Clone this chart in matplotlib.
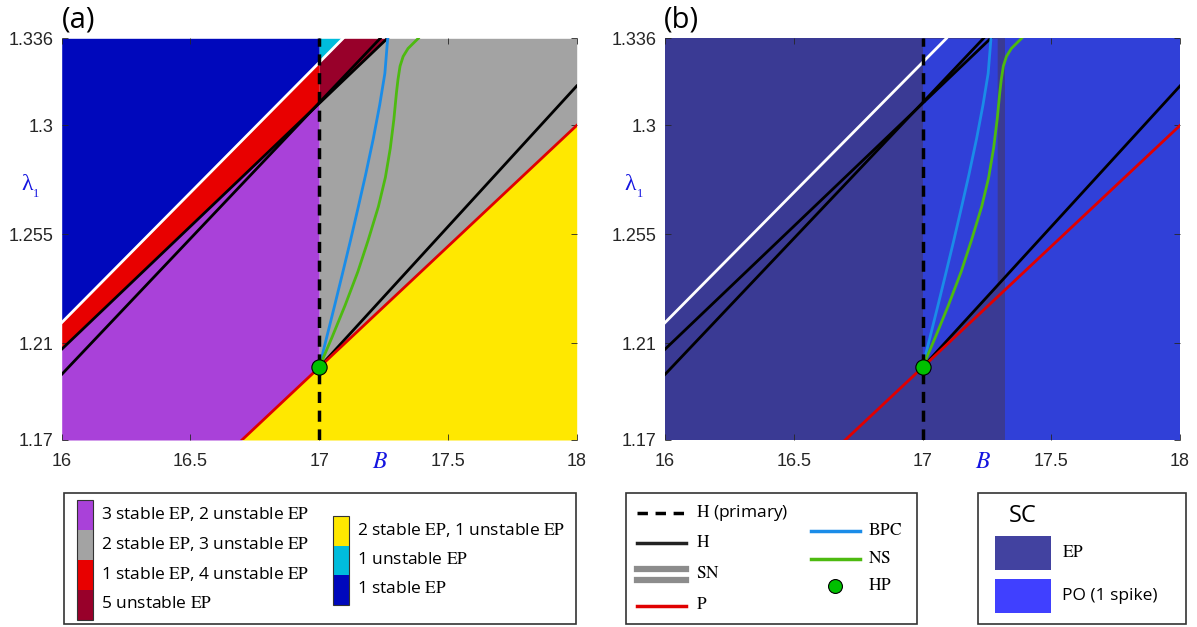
import numpy as np
import matplotlib
matplotlib.use("Agg")
import matplotlib.pyplot as plt
from matplotlib.patches import Rectangle
from matplotlib.lines import Line2D

plt.rcParams['font.family'] = ['Liberation Sans', 'DejaVu Sans']
plt.rcParams['mathtext.fontset'] = 'stix'

#------------------------------------------------------------------
# axis ranges / ticks
B_LIM = [16, 18]
L_LIM = [1.17, 1.336]
XTICKS = [16, 16.5, 17, 17.5, 18]
XTICKLABELS = ["16", "16.5", "17", "17.5", "18"]
YTICKS = [1.17, 1.21, 1.255, 1.3, 1.336]
YTICKLABELS = ["1.17", "1.21", "1.255", "1.3", "1.336"]

# bifurcation curves (B, lambda_1)
H_PRIMARY_B = 17.0
HP_B, HP_L = 17.0, 1.2
WHITE_B = [16.0, 17.093]
WHITE_L = [1.2185, 1.336]
H1_B = [16.0, 17.265]
H1_L = [1.2075, 1.336]
H2_B = [16.0, 17.237]
H2_L = [1.1971, 1.336]
H3_B = [17.0, 18.0]
H3_L = [1.2, 1.3163]
P_B = [16.7, 18.0]
P_L = [1.17, 1.3]
BPC_B = [17.0, 17.03, 17.06, 17.09, 17.12, 17.15, 17.18, 17.21, 17.235,
         17.255, 17.266]
BPC_L = [1.2, 1.2128, 1.2256, 1.2386, 1.2518, 1.2655, 1.2795, 1.2945, 1.3085,
         1.3215, 1.336]
NS_B = [17.0, 17.05, 17.10, 17.15, 17.19, 17.23, 17.257, 17.276, 17.29,
        17.30, 17.306, 17.314, 17.326, 17.345, 17.385]
NS_L = [1.2, 1.2125, 1.2255, 1.2395, 1.2525, 1.2665, 1.2785, 1.2905, 1.3025,
        1.3135, 1.319, 1.3245, 1.3285, 1.3318, 1.336]

# spike-count map (panel b): PO strips in B
PO_WEDGE_B = [17.0, 17.29]
EP_STRIP_B = [17.29, 17.32]

# colours
C_BLUE = '#0008BC'
C_CYAN = '#00BCDC'
C_RED = '#E80000'
C_DARKRED = '#98002A'
C_PURPLE = '#A941D9'
C_GRAY = '#A3A3A3'
C_YELLOW = '#FFE800'
C_BPC = '#1A8CE8'
C_NS = '#4DBA10'
C_HP = '#00C000'
C_EP = '#3A3A94'
C_PO = '#3040D8'
C_EP_LEG = '#4242A0'
C_PO_LEG = '#4040FF'
TICK_COLOR = '#262626'
LABEL_BLUE = '#1515E0'
#------------------------------------------------------------------


def line_at(bs, ls, x):
    bs = np.asarray(bs)
    ls = np.asarray(ls)
    y = np.interp(x, bs, ls)
    s0 = (ls[1] - ls[0]) / (bs[1] - bs[0])
    s1 = (ls[-1] - ls[-2]) / (bs[-1] - bs[-2])
    y = np.where(x < bs[0], ls[0] + s0 * (x - bs[0]), y)
    y = np.where(x > bs[-1], ls[-1] + s1 * (x - bs[-1]), y)
    return y


def clipL(y):
    return np.clip(y, L_LIM[0], L_LIM[1])


def style_axes(ax, letter):
    ax.set_xlim(B_LIM)
    ax.set_ylim(L_LIM)
    ax.set_xticks(XTICKS)
    ax.set_xticklabels(XTICKLABELS)
    ax.set_yticks(YTICKS)
    ax.set_yticklabels(YTICKLABELS)
    ax.tick_params(axis='both', direction='in', length=4, width=0.6,
                   colors=TICK_COLOR, labelsize=13, top=True, right=True)
    ax.tick_params(axis='x', pad=9)
    ax.tick_params(axis='y', pad=6)
    for s in ax.spines.values():
        s.set_visible(False)
    ax.text(0.618, -0.055, r'$B$', transform=ax.transAxes, color=LABEL_BLUE,
            fontsize=17, ha='center', va='center')
    ax.text(-0.068, 0.637, u'\u03bb', transform=ax.transAxes, color=LABEL_BLUE,
            fontsize=17, family='Liberation Serif', ha='center', va='center')
    ax.text(-0.049, 0.612, '1', transform=ax.transAxes, color=LABEL_BLUE,
            fontsize=9, family='Liberation Serif', ha='center', va='center')
    ax.text(0.032, 1.045, letter, transform=ax.transAxes, fontsize=21,
            family='Open Sans', ha='center', va='center')


def draw_curves(ax):
    ax.plot(WHITE_B, WHITE_L, color='white', lw=2.0, zorder=3)
    ax.plot(H1_B, H1_L, color='black', lw=2.0, zorder=4)
    ax.plot(H2_B, H2_L, color='black', lw=2.0, zorder=4)
    ax.plot(H3_B, H3_L, color='black', lw=2.0, zorder=4)
    ax.plot(P_B, P_L, color='#E00000', lw=2.0, zorder=4)
    ax.plot(BPC_B, BPC_L, color=C_BPC, lw=2.0, zorder=4)
    ax.plot(NS_B, NS_L, color=C_NS, lw=2.0, zorder=4)
    ax.plot([H_PRIMARY_B, H_PRIMARY_B], L_LIM, color='black', lw=2.5,
            ls=(0, (3.2, 2.2)), zorder=5)
    ax.plot([HP_B], [HP_L], 'o', ms=11, mfc=C_HP, mec='black', mew=0.8,
            zorder=6, clip_on=False)


fig = plt.figure(figsize=(11.97, 6.27), dpi=100)
W, H = 1197.0, 627.0
axA = fig.add_axes([61.7 / W, 1 - 440 / H, 515 / W, 401.7 / H])
axB = fig.add_axes([665 / W, 1 - 440 / H, 515 / W, 401.7 / H])

# ---------------- panel (a): regions ----------------
bg = np.linspace(B_LIM[0], B_LIM[1], 2001)
wl = line_at(WHITE_B, WHITE_L, bg)
h1 = line_at(H1_B, H1_L, bg)
pl = line_at(P_B, P_L, bg)
left = bg <= H_PRIMARY_B
right = bg >= H_PRIMARY_B
top = np.full_like(bg, L_LIM[1])
bot = np.full_like(bg, L_LIM[0])

axA.fill_between(bg, clipL(wl), top, where=left, color=C_BLUE, lw=0)
axA.fill_between(bg, clipL(wl), top, where=right, color=C_CYAN, lw=0)
axA.fill_between(bg, clipL(h1), clipL(wl), where=left, color=C_RED, lw=0)
axA.fill_between(bg, clipL(h1), clipL(wl), where=right, color=C_DARKRED, lw=0)
axA.fill_between(bg, clipL(pl), clipL(h1), where=left, color=C_PURPLE, lw=0)
axA.fill_between(bg, clipL(pl), clipL(h1), where=right, color=C_GRAY, lw=0)
axA.fill_between(bg, bot, clipL(pl), color=C_YELLOW, lw=0)
draw_curves(axA)
style_axes(axA, '(a)')

# ---------------- panel (b): spike counts ----------------
axB.set_facecolor(C_EP)
h3 = line_at(H3_B, H3_L, bg)
wedge = (bg >= PO_WEDGE_B[0]) & (bg <= PO_WEDGE_B[1])
axB.fill_between(bg, clipL(h3), top, where=wedge, color=C_PO, lw=0)
axB.axvspan(EP_STRIP_B[1], B_LIM[1], color=C_PO, lw=0)
draw_curves(axB)
style_axes(axB, '(b)')

# ---------------- legends (figure pixel coords) ----------------
lg = fig.add_axes([0, 0, 1, 1], zorder=10)
lg.set_xlim(0, W)
lg.set_ylim(H, 0)
lg.axis('off')
lg.patch.set_alpha(0)

TXT = dict(family='Open Sans', fontsize=12.5, va='center', color='black')


def box(x0, y0, x1, y1):
    lg.add_patch(Rectangle((x0, y0), x1 - x0, y1 - y0, fill=False,
                           ec='#333333', lw=1.2))


# box 1: stability regions
box(64, 493, 576, 624)
legend1 = [(C_PURPLE, r'3 stable $\mathrm{EP}$, 2 unstable $\mathrm{EP}$'),
           (C_GRAY, r'2 stable $\mathrm{EP}$, 3 unstable $\mathrm{EP}$'),
           (C_RED, r'1 stable $\mathrm{EP}$, 4 unstable $\mathrm{EP}$'),
           (C_DARKRED, r'5 unstable $\mathrm{EP}$')]
legend2 = [(C_YELLOW, r'2 stable $\mathrm{EP}$, 1 unstable $\mathrm{EP}$'),
           (C_CYAN, r'1 unstable $\mathrm{EP}$'),
           (C_BLUE, r'1 stable $\mathrm{EP}$')]
y = 500.0
for c, t in legend1:
    lg.add_patch(Rectangle((77, y), 15.5, 30, color=c, lw=0))
    lg.text(101, y + 14, t, **TXT)
    y += 30
lg.add_patch(Rectangle((77, 500), 15.5, 120, fill=False, ec='#333333', lw=0.8))
y = 516.0
for c, t in legend2:
    lg.add_patch(Rectangle((333, y), 15.5, 29.5, color=c, lw=0))
    lg.text(357, y + 14, t, **TXT)
    y += 29.5
lg.add_patch(Rectangle((333, 516), 15.5, 88.5, fill=False, ec='#333333', lw=0.8))

# box 2: curve types
box(626, 493, 917, 624)
lg.add_line(Line2D([637, 686], [513, 513], color='black', lw=2.5, ls=(0, (3, 2.2))))
lg.text(696, 513, r'$\mathrm{H}$ (primary)', **TXT)
lg.add_line(Line2D([637, 686], [543, 543], color='#222222', lw=2.5))
lg.text(696, 543, r'$\mathrm{H}$', **TXT)
lg.add_line(Line2D([637, 686], [569, 569], color='#8C8C8C', lw=4.5))
lg.add_line(Line2D([637, 686], [580, 580], color='#8C8C8C', lw=4.5))
lg.text(696, 574, r'$\mathrm{SN}$', **TXT)
lg.add_line(Line2D([637, 686], [605.5, 605.5], color='#E00000', lw=2.5))
lg.text(696, 605, r'$\mathrm{P}$', **TXT)
lg.add_line(Line2D([811, 860], [531, 531], color=C_BPC, lw=2.5))
lg.text(868, 531, r'$\mathrm{BPC}$', **TXT)
lg.add_line(Line2D([811, 860], [559, 559], color=C_NS, lw=2.5))
lg.text(868, 559, r'$\mathrm{NS}$', **TXT)
lg.plot([835], [586], 'o', ms=10, mfc=C_HP, mec='black', mew=0.8)
lg.text(868, 586, r'$\mathrm{HP}$', **TXT)

# box 3: spike count
box(978, 493, 1186, 624)
lg.text(1023, 516, 'SC', family='Open Sans', fontsize=17, va='center', ha='center')
lg.add_patch(Rectangle((995, 536), 56, 34, color=C_EP_LEG, lw=0))
lg.add_patch(Rectangle((995, 579), 56, 34, color=C_PO_LEG, lw=0))
lg.text(1062, 553, r'$\mathrm{EP}$', **TXT)
lg.text(1062, 596, 'PO (1 spike)', **TXT)

fig.savefig('out.png', dpi=100)
